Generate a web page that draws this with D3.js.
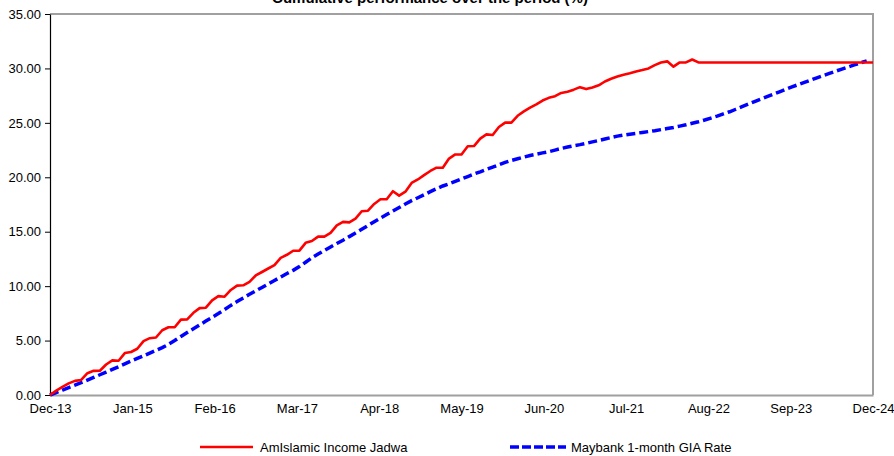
<!DOCTYPE html>
<html><head><meta charset="utf-8">
<script src="https://cdn.jsdelivr.net/npm/d3@7"></script>
<style>
html,body{margin:0;padding:0;background:#fff;}
svg{display:block;font-family:"Liberation Sans",Arial,sans-serif;}
</style></head>
<body>
<svg id="chart" width="894" height="456"></svg>
<script>
const title = "Cumulative performance over the period (%)";
const xTickLabels = ["Dec-13","Jan-15","Feb-16","Mar-17","Apr-18","May-19","Jun-20","Jul-21","Aug-22","Sep-23","Dec-24"];
const yTicks = [0,5,10,15,20,25,30,35];
const seriesNames = ["AmIslamic Income Jadwa","Maybank 1-month GIA Rate"];
const seriesColors = ["#ff0000","#0000ff"];
// monthly cumulative values, Dec-13 onward (month index)
const amIslamic = [
0.00,0.40,0.75,1.07,1.30,1.38,2.00,2.22,2.23,2.80,3.18,3.15,3.85,3.95,4.25,4.95,5.22,5.28,5.95,6.22,
6.22,6.92,6.95,7.55,7.98,8.02,8.70,9.08,9.03,9.65,10.05,10.08,10.40,10.98,11.30,11.62,11.94,12.60,12.88,13.25,
13.26,13.98,14.15,14.55,14.55,14.90,15.58,15.90,15.86,16.20,16.88,16.93,17.55,17.98,17.98,18.72,18.32,18.68,19.48,19.80,
20.20,20.58,20.88,20.88,21.72,22.10,22.10,22.85,22.87,23.55,23.94,23.88,24.62,25.02,25.02,25.65,26.05,26.40,26.70,27.05,
27.30,27.45,27.75,27.86,28.05,28.28,28.10,28.25,28.45,28.80,29.05,29.25,29.42,29.55,29.72,29.85,30.00,30.30,30.55,30.65,
30.16,30.55,30.55,30.82,30.55,30.55,30.55,30.55,30.55,30.55,30.55,30.55,30.55,30.55,30.55,30.55,30.55,30.55,30.55,30.55,
30.55,30.55,30.55,30.55,30.55,30.55,30.55,30.55,30.55,30.55,30.55,30.55,30.55];
const maybankGIA = [
0.00,0.22,0.45,0.68,0.90,1.13,1.37,1.61,1.86,2.10,2.35,2.60,2.86,3.12,3.36,3.60,3.85,4.10,4.35,4.65,
5.00,5.38,5.74,6.09,6.44,6.79,7.13,7.48,7.85,8.23,8.58,8.92,9.25,9.57,9.88,10.20,10.52,10.84,11.16,11.45,
11.80,12.20,12.60,12.95,13.28,13.60,13.92,14.22,14.55,14.88,15.22,15.57,15.92,16.25,16.58,16.90,17.22,17.55,17.85,18.12,
18.40,18.68,18.95,19.20,19.40,19.62,19.85,20.07,20.30,20.50,20.72,20.93,21.15,21.37,21.55,21.70,21.85,22.00,22.12,22.24,
22.35,22.50,22.65,22.78,22.90,23.00,23.12,23.25,23.38,23.52,23.65,23.78,23.88,23.96,24.04,24.12,24.20,24.28,24.38,24.48,
24.58,24.70,24.82,24.96,25.10,25.26,25.44,25.62,25.82,26.02,26.25,26.48,26.72,26.95,27.18,27.40,27.63,27.85,28.08,28.30,
28.51,28.72,28.93,29.14,29.34,29.54,29.74,29.94,30.13,30.32,30.51,30.70];

const svg = d3.select("#chart");
const L = 50, R = 873, T = 14, B = 395;
const nMonths = amIslamic.length - 1;
const x = d3.scaleLinear().domain([0, nMonths]).range([L, R]);
const xLab = d3.scalePoint().domain(xTickLabels).range([L, R]);
const y = d3.scaleLinear().domain([0, 35]).range([B, T]);

// frame (top and right grey)
svg.append("path").attr("d", `M${L},${T}H${R}V${B}`).attr("fill","none")
  .attr("stroke","#a0a0a0").attr("stroke-width",2);
// bottom axis
const xAxis = svg.append("g").attr("transform",`translate(0,${B})`)
  .call(d3.axisBottom(xLab).tickSize(0).tickPadding(9));
xAxis.select(".domain").attr("stroke","#a0a0a0").attr("stroke-width",2);
xAxis.selectAll("text").attr("font-size",13).attr("fill","#000").attr("font-family","'Liberation Sans',Arial,sans-serif");

// left axis
const yAxis = svg.append("g").attr("transform",`translate(${L},0)`)
  .call(d3.axisLeft(y).tickValues(yTicks).tickFormat(d3.format(".2f")).tickSize(5).tickSizeOuter(0).tickPadding(4));
yAxis.select(".domain").attr("stroke","#000").attr("stroke-width",1.2);
yAxis.selectAll(".tick line").attr("stroke","#000");
yAxis.selectAll("text").attr("font-size",13).attr("fill","#000").attr("font-family","'Liberation Sans',Arial,sans-serif");

const line = d3.line().x((d,i)=>x(i)).y(d=>y(d));
svg.append("path").datum(maybankGIA).attr("d",line).attr("fill","none")
  .attr("stroke",seriesColors[1]).attr("stroke-width",3.5).attr("stroke-dasharray","9,4");
svg.append("path").datum(amIslamic).attr("d",line).attr("fill","none")
  .attr("stroke",seriesColors[0]).attr("stroke-width",2.6).attr("stroke-linejoin","round");

// title
svg.append("text").attr("x",430).attr("y",3).attr("text-anchor","middle")
  .attr("font-size",15).attr("font-weight","bold").text(title);

// legend
const leg = [{x1:200,x2:253,tx:260},{x1:510,x2:566,tx:571}];
leg.forEach((g,k)=>{
  const ln = svg.append("line").attr("x1",g.x1).attr("x2",g.x2).attr("y1",447).attr("y2",447)
    .attr("stroke",seriesColors[k]).attr("stroke-width",k?3.5:2.6);
  if(k) ln.attr("stroke-dasharray","9,3");
  svg.append("text").attr("x",g.tx).attr("y",452).attr("font-size",13).text(seriesNames[k]);
});
</script>
</body></html>
